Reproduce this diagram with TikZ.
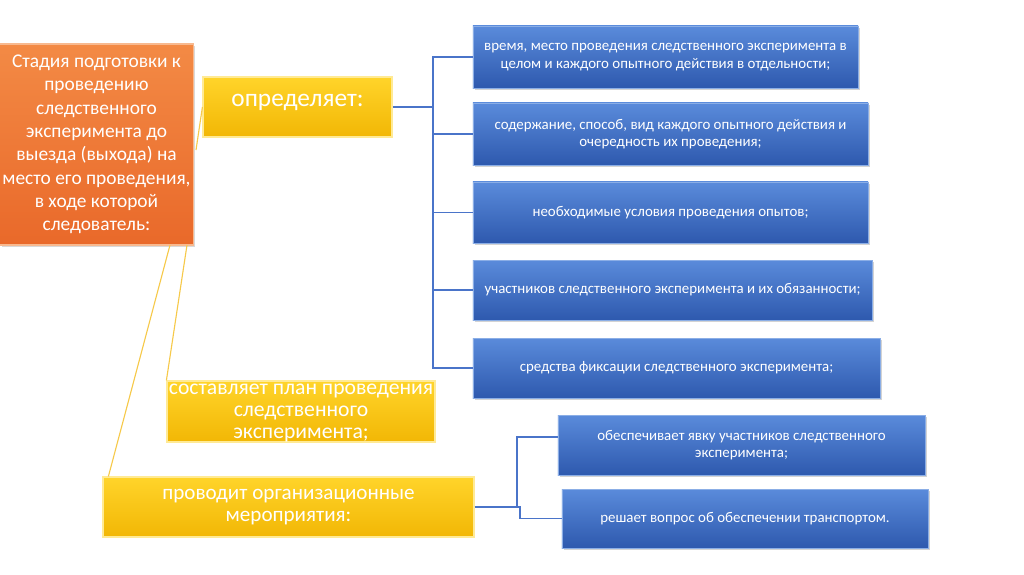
\documentclass[tikz,border=0pt]{standalone}
\usepackage{fontspec}
\setmainfont{Carlito}
\usetikzlibrary{shadows}
\definecolor{bluetop}{HTML}{5A8BDB}
\definecolor{bluebot}{HTML}{2E59AE}
\definecolor{blueline}{HTML}{4A74C9}
\definecolor{yeltop}{HTML}{FFD42A}
\definecolor{yelbot}{HTML}{F2B705}
\definecolor{yelline}{HTML}{F6C94A}
\definecolor{ortop}{HTML}{F38A45}
\definecolor{orbot}{HTML}{E9692A}
\tikzset{
  bluebox/.style={draw=bluetop!70!white, line width=0.6pt, top color=bluetop, bottom color=bluebot,
    text=white, align=center, font=\fontsize{10.6}{12.4}\selectfont, inner sep=2pt,
    drop shadow={shadow xshift=1.5pt, shadow yshift=-1.5pt, opacity=0.35}},
  yelbox/.style={draw=yeltop!50!white, line width=0.8pt, top color=yeltop, bottom color=yelbot,
    text=white, align=center, font=\fontsize{15}{15.6}\selectfont, inner sep=2pt},
  orbox/.style={draw=ortop!60!white, line width=0.8pt, top color=ortop, bottom color=orbot,
    text=white, align=center, font=\fontsize{13.8}{16.6}\selectfont, inner sep=2pt,
    drop shadow={shadow xshift=1.5pt, shadow yshift=-1.5pt, opacity=0.3}},
  bline/.style={draw=blueline, line width=0.9pt},
  yline/.style={draw=yelline, line width=0.8pt},
}
\begin{document}
\begin{tikzpicture}[x=0.025cm, y=-0.025cm]
\useasboundingbox (0,0) rectangle (1024,574);
% orange
\node[orbox, minimum width=4.825cm, minimum height=5.025cm] (O) at (96.5,144.5)
  {Стадия подготовки к\\проведению\\следственного\\эксперимента до\\выезда (выхода) на\\место его проведения,\\в ходе которой\\следователь:};
% yellow
\node[yelbox, minimum width=4.725cm, minimum height=1.5cm] (Y1) at (297.5,107) {};
\node[text=white, font=\fontsize{18}{20}\selectfont] (Y1t) at (297.5,102) {определяет:};
\node[yelbox, minimum width=6.7cm, minimum height=1.525cm] (Y2) at (301,411.5) {};
\node[text=white, align=center, font=\fontsize{15.4}{15.8}\selectfont] (Y2t) at (301,413) {составляет план проведения\\следственного\\эксперимента;};
\node[yelbox, minimum width=9.275cm, minimum height=1.5cm] (Y3) at (288.5,507) {проводит организационные\\мероприятия:};
% blue
\node[bluebox, minimum width=9.625cm, minimum height=1.55cm] (B1) at (665.5,57)
  {время, место проведения следственного эксперимента в\\целом и каждого опытного действия в отдельности;};
\node[bluebox, minimum width=9.875cm, minimum height=1.55cm] (B2) at (670.5,134)
  {содержание, способ, вид каждого опытного действия и\\очередность их проведения;};
\node[bluebox, minimum width=9.875cm, minimum height=1.525cm] (B3) at (670.5,212.5)
  {необходимые условия проведения опытов;};
\node[bluebox, minimum width=9.975cm, minimum height=1.5cm] (B4) at (672.5,290)
  {участников следственного эксперимента и их обязанности;};
\node[bluebox, minimum width=10.175cm, minimum height=1.5cm] (B5) at (676.5,368)
  {средства фиксации следственного эксперимента;};
\node[bluebox, minimum width=9.175cm, minimum height=1.5cm] (B6) at (741.5,445)
  {обеспечивает явку участников следственного\\эксперимента;};
\node[bluebox, minimum width=9.15cm, minimum height=1.475cm] (B7) at (745,518.5)
  {решает вопрос об обеспечении транспортом.};
% blue connectors (upper bracket)
\coordinate (bus1) at (433,107);
\draw[bline] (Y1.east) -- (bus1);
\draw[bline] (433,57) -- (433,368);
\foreach \b in {B1,B2,B3,B4,B5} \draw[bline] (bus1) |- (\b.west);
% lower bracket
\coordinate (bus2) at (517,507);
\coordinate (b6in) at (B6.west |- 0,437);
\draw[bline] (Y3.east) -- (bus2) |- (b6in);
\draw[bline] (bus2) -- ++(3,0) |- (B7.west);
% yellow connectors from orange box
\coordinate (o1) at (187,245);
\coordinate (o2) at (170,245);
\coordinate (o3) at (196,150);
\draw[yline] (o1) -- (Y2.north west);
\draw[yline] (o2) -- ([xshift=0.15cm]Y3.north west);
\draw[yline] (o3) -- (Y1.west);
\end{tikzpicture}
\end{document}
